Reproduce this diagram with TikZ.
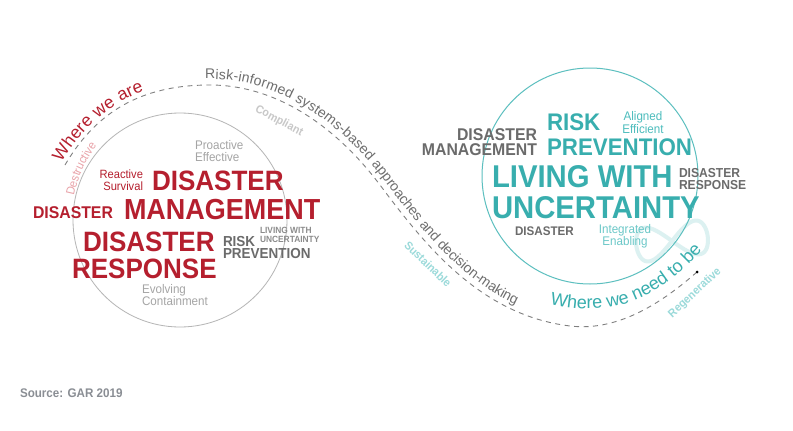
\documentclass[tikz,border=0pt]{standalone}
\usepackage{fontspec}
\setmainfont{Liberation Sans}[FakeStretch=0.93]
\newfontfamily\plainfont{Liberation Sans}
\usetikzlibrary{decorations.text}
\definecolor{cRed}{HTML}{B51F2E}
\definecolor{cTeal}{HTML}{38AEAE}
\definecolor{cTealM}{HTML}{4DBDBD}
\definecolor{cTealL}{HTML}{6CC8C8}
\definecolor{cTealLL}{HTML}{9BDADA}
\definecolor{cInf}{HTML}{DCF1F1}
\definecolor{cTealC}{HTML}{5CBFBF}
\definecolor{cGrayD}{HTML}{6B6B6B}
\definecolor{cGrayM}{HTML}{8C8C8C}
\definecolor{cGrayL}{HTML}{A5A5A5}
\definecolor{cGrayLL}{HTML}{C8C8C8}
\definecolor{cGrayC}{HTML}{B5B5B5}
\definecolor{cPink}{HTML}{E9A3A9}
\definecolor{cDash}{HTML}{808080}
\definecolor{cPathTxt}{HTML}{6E6E6E}
\definecolor{cSrc}{HTML}{8A8E94}
\newcommand\fs[1]{\fontsize{#1}{#1}\selectfont}
\tikzset{
  txt/.style={inner sep=0pt, outer sep=0pt},
  bw/.style={txt, anchor=base west},
  be/.style={txt, anchor=base east},
  bc/.style={txt, anchor=base},
  dashline/.style={draw=cDash, line width=0.9pt, dash pattern=on 5pt off 4.5pt},
  ringL/.style={circle, draw=cGrayC, line width=0.8pt, inner sep=0pt},
  ringR/.style={circle, draw=cTealC, line width=1pt, inner sep=0pt},
  sidelabel/.style={txt, font=\fs{11.5}\bfseries},
}
\begin{document}
\begin{tikzpicture}[x=1pt,y=-1pt]
\fill[white] (0,0) rectangle (793,431);
\useasboundingbox (0,0) rectangle (793,431);

% infinity sign
\begin{scope}[shift={(672,241)}, rotate=8]
\draw[cInf, line width=4pt] plot[domain=0:360, samples=120, smooth, variable=\t] ({36*cos(\t)}, {34*sin(\t)*cos(\t)});
\end{scope}

% circles
\node[ringL, minimum size=214pt] (lc) at (180,220) {};
\node[ringR, minimum size=216pt] (rc) at (590,176) {};

% dashed S path
\coordinate (pstart) at (65,165);
\coordinate (pend) at (697,272);
\draw[dashline] (pstart) .. controls (100,105) and (150,85) .. (210,85)
  .. controls (275,85) and (335,125) .. (380,185)
  .. controls (425,245) and (480,315) .. (570,326)
  .. controls (620,332) and (665,300) .. (pend);
\fill[black] (pend) circle (1.5pt);

% texts along path
\path[decorate, decoration={text along path, text={|\plainfont\fs{14}|Risk-informed systems-based approaches and decision-making}, text color=cPathTxt, raise=6pt}]
  (205,85) -- (210,85)
  .. controls (275,85) and (335,125) .. (380,185)
  .. controls (425,245) and (480,315) .. (570,326)
  .. controls (620,332) and (665,300) .. (697,272);
\path[decorate, decoration={text along path, text={|\plainfont\fs{17.5}|Where we are}, text color=cRed, raise=4pt}]
  (65,165) .. controls (100,105) and (150,85) .. (210,85);
\path[decorate, decoration={text along path, text={|\fs{12}|Destructive}, text color=cPink}]
  (74,196) .. controls (79,172) and (88,156) .. (104,136);
\path[decorate, decoration={text along path, text={|\plainfont\fs{18}|Where we need to be}, text color=cTeal}]
  (550,304) .. controls (602,316) and (655,310) .. (714,236);

% rotated labels
\node[sidelabel, rotate=-28, text=cGrayLL] (compl) at (279,121) {Compliant};
\node[sidelabel, rotate=-44, text=cTealLL] (sust) at (428,264) {Sustainable};
\node[sidelabel, rotate=43, text=cTealLL] (regen) at (695,293) {Regenerative};

% left circle words
\node[bw, font=\fs{12.5}, text=cGrayL] (lpro) at (195,149.5) {Proactive};
\node[bw, font=\fs{12.5}, text=cGrayL] (leff) at (195,161.5) {Effective};
\node[be, font=\fs{12}, text=cRed] (lrea) at (143,178) {Reactive};
\node[be, font=\fs{12}, text=cRed] (lsur) at (143,190) {Survival};
\node[bw, font=\fs{28}\bfseries, text=cRed] (ldis) at (152,190) {DISASTER};
\node[bw, font=\fs{29}\bfseries, text=cRed] (lman) at (124,219) {MANAGEMENT};
\node[bw, font=\fs{17}\bfseries, text=cRed] (ldis2) at (33,218) {DISASTER};
\node[bw, font=\fs{28}\bfseries, text=cRed] (ldis3) at (83,251) {DISASTER};
\node[bw, font=\fs{28}\bfseries, text=cRed] (lresp) at (72,278) {RESPONSE};
\node[bw, font=\fs{14.5}\bfseries, text=cGrayD] (lrisk) at (223,246) {RISK};
\node[bw, font=\fs{14.5}\bfseries, text=cGrayD] (lprev) at (223,258) {PREVENTION};
\node[bw, font=\fs{9}\bfseries, text=cGrayM] (lliv) at (260,233) {LIVING WITH};
\node[bw, font=\fs{9}\bfseries, text=cGrayM] (lunc) at (260,242) {UNCERTAINTY};
\node[bw, font=\fs{12.5}, text=cGrayL] (levo) at (142,293) {Evolving};
\node[bw, font=\fs{12.5}, text=cGrayL] (lcon) at (142,305) {Containment};

% right circle words
\node[be, font=\fs{17}\bfseries, text=cGrayD] (rdis) at (537,140) {DISASTER};
\node[be, font=\fs{17}\bfseries, text=cGrayD] (rman) at (537,155.5) {MANAGEMENT};
\node[bw, font=\fs{24}\bfseries, text=cTeal] (rrisk) at (547,130) {RISK};
\node[bw, font=\fs{24}\bfseries, text=cTeal] (rprev) at (547,155) {PREVENTION};
\node[bc, font=\fs{12.5}, text=cTealM] (rali) at (643,120) {Aligned};
\node[bc, font=\fs{12.5}, text=cTealM] (reff) at (643,133) {Efficient};
\node[bw, font=\fs{31.5}\bfseries, text=cTeal] (rliv) at (492,187) {LIVING WITH};
\node[bw, font=\fs{31.5}\bfseries, text=cTeal] (runc) at (492,218) {UNCERTAINTY};
\node[bw, font=\fs{13}\bfseries, text=cGrayD] (rdis2) at (679,177) {DISASTER};
\node[bw, font=\fs{13}\bfseries, text=cGrayD] (rresp) at (679,189) {RESPONSE};
\node[bw, font=\fs{12.5}\bfseries, text=cGrayD] (rdis3) at (515,235) {DISASTER};
\node[bc, font=\fs{12.5}, text=cTealL] (rint) at (625,233) {Integrated};
\node[bc, font=\fs{12.5}, text=cTealL] (renab) at (625,245) {Enabling};

% source
\node[bw, font=\fs{12.5}\bfseries, text=cSrc] (src) at (20,397) {Source: GAR 2019};
\end{tikzpicture}
\end{document}
